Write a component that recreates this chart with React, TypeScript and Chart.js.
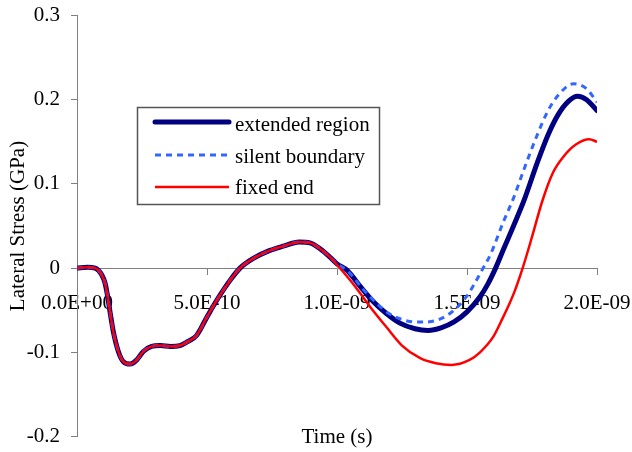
import { useEffect, useRef } from 'react';
import { Chart, registerables } from 'chart.js';

Chart.register(...registerables);

// Time values are in units of 1e-10 s; stress in GPa.
// All three runs coincide up to about 1.0E-09 s.
const sharedTime = [0, 0.4, 0.7, 0.95, 1.08, 1.17, 1.27, 1.4, 1.59, 1.78, 2.04, 2.3, 2.55, 2.87, 3.2, 3.6, 3.96, 4.22, 4.6, 5.0, 5.4, 5.9, 6.27, 6.78, 7.42, 7.93, 8.55, 8.96, 9.35, 9.8];
const sharedStress = [0, 0.001, 0, -0.008, -0.018, -0.032, -0.052, -0.076, -0.099, -0.111, -0.114, -0.109, -0.099, -0.093, -0.092, -0.093, -0.092, -0.088, -0.08, -0.058, -0.037, -0.014, 0, 0.0115, 0.021, 0.026, 0.031, 0.03, 0.023, 0.011];

const extendedTime = [10.0, 10.4, 10.9, 11.4, 11.9, 12.4, 13.0, 13.5, 14.0, 14.5, 15.0, 15.5, 15.8, 16.1, 16.4, 16.8, 17.2, 17.7, 18.1, 18.5, 18.9, 19.25, 19.6, 20.0];
const extendedStress = [0.005, -0.003, -0.022, -0.04, -0.054, -0.065, -0.072, -0.074, -0.071, -0.064, -0.052, -0.034, -0.019, 0, 0.022, 0.051, 0.081, 0.125, 0.157, 0.182, 0.198, 0.204, 0.2, 0.187];

const silentTime = [10.0, 10.4, 11.0, 11.5, 12.0, 12.5, 13.0, 13.4, 14.0, 14.5, 15.0, 15.3, 15.62, 15.9, 16.4, 16.8, 17.2, 17.7, 18.1, 18.5, 19.1, 19.6, 20.0];
const silentStress = [0.005, -0.003, -0.025, -0.041, -0.054, -0.061, -0.064, -0.064, -0.06, -0.05, -0.033, -0.018, 0, 0.016, 0.055, 0.084, 0.118, 0.158, 0.186, 0.205, 0.219, 0.213, 0.197];

const fixedTime = [10.0, 10.6, 11.3, 11.9, 12.5, 13.2, 13.8, 14.4, 15.1, 15.5, 16.0, 16.3, 16.8, 17.14, 17.5, 17.9, 18.3, 18.7, 19.2, 19.7, 20.0];
const fixedStress = [0.004, -0.018, -0.047, -0.07, -0.092, -0.107, -0.113, -0.115, -0.109, -0.1, -0.082, -0.064, -0.03, 0, 0.037, 0.08, 0.113, 0.132, 0.147, 0.153, 0.15];

const seriesNames = ['extended region', 'silent boundary', 'fixed end'];
const xTickLabels = ['0.0E+00', '5.0E-10', '1.0E-09', '1.5E-09', '2.0E-09'];
const yTickLabels = ['-0.2', '-0.1', '0', '0.1', '0.2', '0.3'];
const xTitle = 'Time (s)';
const yTitle = 'Lateral Stress (GPa)';

const FONT = "'Liberation Serif', 'Times New Roman', serif";
const NAVY = '#000080';
const LIGHT_BLUE = '#3366FF';
const RED = '#FF0000';
const AXIS_GRAY = '#808080';

function toPoints(times: number[], values: number[]) {
  return times.map((t, i) => ({ x: t * 1e-10, y: values[i] }));
}

const legendAndTitle = {
  id: 'legendAndTitle',
  afterDraw(chart: any) {
    const { ctx, chartArea } = chart;
    ctx.save();

    // x-axis title under the plot
    ctx.font = `21px ${FONT}`;
    ctx.fillStyle = '#000';
    ctx.textAlign = 'center';
    ctx.textBaseline = 'alphabetic';
    ctx.fillText(xTitle, (chartArea.left + chartArea.right) / 2, 443);

    // boxed legend inside the plot area
    const bx = chartArea.left + 60.5;
    const by = 107.5;
    const bw = 242;
    const bh = 97;
    ctx.fillStyle = '#fff';
    ctx.fillRect(bx, by, bw, bh);
    ctx.strokeStyle = '#555';
    ctx.lineWidth = 1.5;
    ctx.strokeRect(bx, by, bw, bh);

    const styles = [
      { color: NAVY, width: 5, dash: [] as number[], cap: 'round' },
      { color: LIGHT_BLUE, width: 3, dash: [6, 5], cap: 'butt' },
      { color: RED, width: 2.5, dash: [] as number[], cap: 'butt' },
    ];
    const lineYs = [122, 155, 187];
    const textYs = [131, 163, 194];
    seriesNames.forEach((name, i) => {
      const s = styles[i];
      ctx.beginPath();
      ctx.strokeStyle = s.color;
      ctx.lineWidth = s.width;
      ctx.lineCap = s.cap;
      ctx.setLineDash(s.dash);
      ctx.moveTo(155, lineYs[i]);
      ctx.lineTo(229, lineYs[i]);
      ctx.stroke();
      ctx.setLineDash([]);
      ctx.fillStyle = '#000';
      ctx.textAlign = 'left';
      ctx.textBaseline = 'alphabetic';
      ctx.fillText(name, 235, textYs[i]);
    });

    ctx.restore();
  },
};

export default function App() {
  const canvasRef = useRef<HTMLCanvasElement | null>(null);

  useEffect(() => {
    const canvas = canvasRef.current;
    if (!canvas) return;

    const chart = new Chart(canvas, {
      type: 'line',
      data: {
        datasets: [
          {
            label: seriesNames[0],
            data: toPoints([...sharedTime, ...extendedTime], [...sharedStress, ...extendedStress]),
            borderColor: NAVY,
            borderWidth: 5,
            borderCapStyle: 'round',
            borderJoinStyle: 'round',
            pointRadius: 0,
            cubicInterpolationMode: 'monotone',
            order: 3,
          },
          {
            label: seriesNames[1],
            data: toPoints([...sharedTime, ...silentTime], [...sharedStress, ...silentStress]),
            borderColor: LIGHT_BLUE,
            borderWidth: 3,
            borderDash: [6, 5],
            pointRadius: 0,
            cubicInterpolationMode: 'monotone',
            order: 2,
          },
          {
            label: seriesNames[2],
            data: toPoints([...sharedTime, ...fixedTime], [...sharedStress, ...fixedStress]),
            borderColor: RED,
            borderWidth: 2.5,
            pointRadius: 0,
            cubicInterpolationMode: 'monotone',
            order: 1,
          },
        ],
      },
      options: {
        animation: false,
        responsive: false,
        layout: { padding: { top: 15.5, right: 35, bottom: 15.5, left: 0 } },
        plugins: {
          legend: { display: false },
          tooltip: { enabled: false },
        },
        scales: {
          x: {
            type: 'linear',
            position: { y: 0 },
            min: 0,
            max: 2e-9,
            afterFit: (scale: any) => {
              scale.paddingLeft = 0;
              scale.paddingRight = 0;
            },
            ticks: {
              stepSize: 5e-10,
              color: '#000',
              font: { family: FONT, size: 21 },
              padding: 17,
              maxRotation: 0,
              callback: (v: any) => xTickLabels[Math.round(Number(v) / 5e-10)] ?? '',
            },
            grid: { drawOnChartArea: false, drawTicks: true, tickLength: 6, color: AXIS_GRAY },
            border: { color: AXIS_GRAY, width: 1 },
          },
          y: {
            type: 'linear',
            position: 'left',
            min: -0.2,
            max: 0.3,
            afterFit: (scale: any) => {
              scale.width = 77;
              scale.paddingTop = 0;
              scale.paddingBottom = 0;
            },
            ticks: {
              stepSize: 0.1,
              color: '#000',
              font: { family: FONT, size: 21 },
              padding: 11,
              callback: (v: any) => yTickLabels[Math.round(Number(v) * 10) + 2] ?? '',
            },
            title: {
              display: true,
              text: yTitle,
              color: '#000',
              font: { family: FONT, size: 21 },
              padding: { top: 6, bottom: 0 },
            },
            grid: { drawOnChartArea: false, drawTicks: true, tickLength: 6, color: AXIS_GRAY },
            border: { color: AXIS_GRAY, width: 1 },
          },
        },
      },
      plugins: [legendAndTitle],
    } as any);

    return () => chart.destroy();
  }, []);

  return (
    <div style={{ position: 'fixed', left: 0, top: 0, width: 632, height: 452, background: '#fff' }}>
      <canvas ref={canvasRef} width={632} height={452} style={{ display: 'block' }} />
    </div>
  );
}
